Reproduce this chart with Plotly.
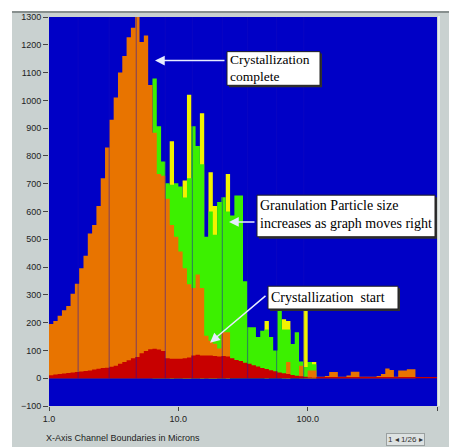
import numpy as np
import plotly.graph_objects as go

# 90 logarithmic channels from 1 to 1000 microns
n_channels = 90
bounds = np.logspace(0, 3, n_channels + 1)

orange = [195, 206, 225, 245, 260, 304, 340, 396, 441, 521, 551, 620, 720, 830, 930, 1010, 1100, 1160, 1227, 1261, 1300,
          1210, 1233, 1055, 883, 735, 729, 646, 551, 509, 456, 396, 338, 325, 373, 325, 153, 135, 124, 107, 165, 165,
          0, 0, 0, 0, 0, 0, 0, 0, 0, 0, 0, 0, 0, 58, 0, 0, 45, 0, 28, 28,
          5, 5, 8, 22, 22, 5, 5, 10, 23, 23, 5, 5, 5, 5, 8, 15, 35, 30, 5, 28, 28, 32, 32, 0, 0, 0, 0, 0]

green = [0] * 24 + [1079, 907, 780, 702, 696, 702, 690, 650, 720, 907, 836, 770, 509, 600, 516, 634, 651, 600, 586,
                    658, 658, 349, 183, 183, 148, 171, 175, 148, 100, 248, 175, 175, 123, 165, 60, 40, 58, 50] + [0] * 28

yellow = [0] * 90
for ch, v in {28: 853, 31: 712, 32: 1020, 35: 954, 37: 741, 38: 620, 41: 735, 50: 206,
              54: 212, 55: 206, 59: 270, 60: 58, 61: 58}.items():
    yellow[ch] = v

red = [11, 13, 15, 17, 19, 21, 22, 24, 26, 28, 31, 34, 37, 38, 41, 45, 52, 58, 65, 72,
       76, 90, 98, 104, 106, 103, 98, 72, 70, 70, 70, 72, 75, 82, 84, 82, 82, 82, 80, 78,
       80, 78, 72, 66, 62, 56, 52, 47, 42, 37, 33, 29, 25, 21, 18, 15, 12, 9, 7, 5, 3, 2] + [4] * 28

marker_lines = [1.68, 2.92, 4.73, 7.93, 12.85, 21.9, 34.3, 57.5, 93.1]

y_ticks = list(range(-100, 1301, 100))
x_ticks = [1, 10, 100, 1000]
x_ticktext = ["1.0", "10.0", "100.0", "1000.0"]

fig = go.Figure()


def step(vals, color, name):
    xs = list(bounds)
    ys = list(vals) + [vals[-1]]
    fig.add_trace(go.Scatter(x=xs, y=ys, mode="lines", line=dict(shape="hv", width=0, color=color),
                             fill="tozeroy", fillcolor=color, name=name, showlegend=False,
                             hoverinfo="skip"))


step(yellow, "#f2f200", "yellow")
step(green, "#3cf000", "green")
step(orange, "#e87400", "orange")
step(red, "#c80000", "red")

lx, ly = [], []
for v in marker_lines:
    lx += [v, v, None]
    ly += [0, 1300, None]
fig.add_trace(go.Scatter(x=lx, y=ly, mode="lines", line=dict(color="rgba(20,10,190,0.42)", width=1.2),
                         showlegend=False, hoverinfo="skip"))

L, R, T, B = 49, 12, 13, 41
W, H = 449, 447
pw, ph = W - L - R, H - T - B


def px(x):
    return (x - L) / pw


def py(y):
    return (H - B - y) / ph


ann = []
shapes = [
    dict(type="rect", xref="paper", yref="paper", x0=px(-5), x1=px(12), y0=py(450), y1=py(-5),
         fillcolor="white", line=dict(width=0), layer="below"),
    dict(type="rect", xref="paper", yref="paper", x0=px(-5), x1=px(455), y0=py(7), y1=py(-5),
         fillcolor="white", line=dict(width=0), layer="below"),
    dict(type="line", xref="paper", yref="paper", x0=px(12), x1=px(449), y0=py(8), y1=py(8),
         line=dict(color="#707878", width=1.5)),
    dict(type="line", xref="paper", yref="paper", x0=px(439), x1=px(439), y0=py(12), y1=py(406),
         line=dict(color="#eef2f2", width=1.5)),
]

# text boxes: (lines, x0, x1, y0, y1, line centres, font size)
boxes = [
    (["Crystallization", "complete"], 227, 320, 48, 82, [56, 73.5], 13.5),
    (["Granulation Particle size", "increases as graph moves right"], 257, 435, 193, 235, [203.5, 222], 14),
    (["Crystallization  start"], 268, 398, 285, 308, [296], 14),
]
for lines, x0, x1, y0, y1, cys, fs in boxes:
    shapes.append(dict(type="rect", xref="paper", yref="paper", x0=px(x0 + 2), x1=px(x1 + 2),
                       y0=py(y1 + 2), y1=py(y0 + 2), fillcolor="#303030", line=dict(width=0)))
    shapes.append(dict(type="rect", xref="paper", yref="paper", x0=px(x0), x1=px(x1),
                       y0=py(y1), y1=py(y0), fillcolor="white", line=dict(color="#202020", width=1)))
    for t, cy in zip(lines, cys):
        ann.append(dict(text=t, xref="paper", yref="paper", x=px(x0 + 1), y=py(cy), xanchor="left",
                        yanchor="middle", showarrow=False,
                        font=dict(family="Liberation Serif", size=fs, color="black")))

# arrows
for hx, hy, tx, ty in [(155, 57, 226, 57), (229, 220, 256, 220), (210, 342, 267, 294)]:
    ann.append(dict(text="", xref="paper", yref="paper", x=px(hx), y=py(hy), ax=tx - hx, ay=ty - hy,
                    showarrow=True, arrowhead=2, arrowsize=1.3, arrowwidth=1.5, arrowcolor="#e6ecff"))

ann.append(dict(text="X-Axis Channel Boundaries in Microns", xref="paper", yref="paper", x=px(44), y=py(438),
                xanchor="left", yanchor="middle", showarrow=False,
                font=dict(family="Liberation Sans", size=9, color="#222")))
ann.append(dict(text="1 ◂ 1/26 ▸", xref="paper", yref="paper", x=px(386), y=py(440),
                xanchor="left", yanchor="middle", showarrow=False, bgcolor="#dde2e2",
                bordercolor="#9aa0a0", borderwidth=1, borderpad=1,
                font=dict(family="Liberation Sans", size=8, color="#333")))

fig.update_layout(
    width=W, height=H, margin=dict(l=L, r=R, t=T, b=B, pad=0),
    paper_bgcolor="#c9d1d0", plot_bgcolor="#0000c6",
    annotations=ann, shapes=shapes,
    xaxis=dict(type="log", range=[0, 3], tickvals=x_ticks, ticktext=x_ticktext, showgrid=False,
               zeroline=False, ticks="outside", ticklen=4, tickcolor="#444",
               tickfont=dict(family="Liberation Sans", size=9, color="#222"), showline=False),
    yaxis=dict(range=[-100, 1300], tickvals=y_ticks, showgrid=False, zeroline=False,
               ticks="outside", ticklen=5, tickcolor="#444",
               tickfont=dict(family="Liberation Sans", size=9, color="#222"), showline=False),
)

fig.write_html("out.html")
